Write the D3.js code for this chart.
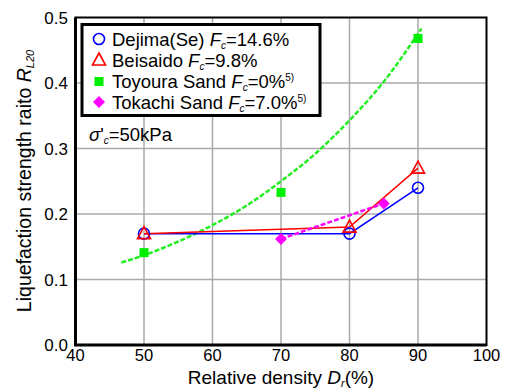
<!DOCTYPE html>
<html>
<head>
<meta charset="utf-8">
<style>
  body { margin: 0; background: #fff; }
  svg text { font-family: "Liberation Sans", Arial, sans-serif; fill: #000; }
  .grid line { stroke: #aaa; stroke-width: 1.5; }
</style>
</head>
<body>
<svg id="chart" width="505" height="388"></svg>
<script src="https://d3js.org/d3.v7.min.js"></script>
<script>
// values
var xTicks = [40, 50, 60, 70, 80, 90, 100];
var yTicks = [0.0, 0.1, 0.2, 0.3, 0.4, 0.5];

var dejima   = [[50, 0.17], [80, 0.17], [90, 0.24]];
var beisaido = [[50, 0.17], [80, 0.18], [90, 0.27]];
var toyoura  = [[50, 0.141], [70, 0.233], [90, 0.468]];
var tokachi  = [[70, 0.162], [85, 0.216]];
// green trend curve
var toyouraFit = [[46.7, 0.126], [50, 0.137], [55, 0.158], [60, 0.183], [65, 0.213],
                  [70, 0.25], [75, 0.292], [80, 0.343], [85, 0.402], [90.5, 0.483]];

var svg = d3.select("#chart");
var L = 75.5, R = 486.5, T = 17.5, B = 345;

var x = d3.scaleLinear().domain([40, 100]).range([L, R]);
var y = d3.scaleLinear().domain([0, 0.5]).range([B, T]);

// grid
var grid = svg.append("g").attr("class", "grid");
grid.selectAll(".gx").data(xTicks.slice(1, -1)).enter().append("line")
  .attr("x1", d => x(d)).attr("x2", d => x(d)).attr("y1", T).attr("y2", B);
grid.selectAll(".gy").data(yTicks.slice(1, -1)).enter().append("line")
  .attr("x1", L).attr("x2", R).attr("y1", d => y(d)).attr("y2", d => y(d));

// frame
svg.append("rect").attr("x", L).attr("y", T).attr("width", R - L).attr("height", B - T)
  .attr("fill", "none").attr("stroke", "#000").attr("stroke-width", 2);
svg.append("path").attr("d", `M${L},${T}V${B}H${R}`)
  .attr("fill", "none").attr("stroke", "#000").attr("stroke-width", 3);

// tick labels
svg.selectAll(".xl").data(xTicks).enter().append("text")
  .attr("x", d => x(d)).attr("y", 361).attr("text-anchor", "middle")
  .attr("font-size", 16.5).text(d => d);
svg.selectAll(".yl").data(yTicks).enter().append("text")
  .attr("x", 68).attr("y", d => y(d) + 6).attr("text-anchor", "end")
  .attr("font-size", 17).text(d => d.toFixed(1));

// axis titles
var xt = svg.append("text").attr("x", 281).attr("y", 384).attr("text-anchor", "middle")
  .attr("font-size", 19);
xt.append("tspan").text("Relative density ");
xt.append("tspan").attr("font-style", "italic").text("D");
xt.append("tspan").attr("font-style", "italic").attr("font-size", 11).attr("dy", 3).text("r");
xt.append("tspan").attr("dy", -3).text("(%)");

var yt = svg.append("text").attr("transform", "translate(31,181) rotate(-90)")
  .attr("text-anchor", "middle").attr("font-size", 19.5);
yt.append("tspan").text("Liquefaction strength raito ");
yt.append("tspan").attr("font-style", "italic").text("R");
yt.append("tspan").attr("font-style", "italic").attr("font-size", 11).attr("dy", 3).text("L20");

var line = d3.line().x(d => x(d[0])).y(d => y(d[1]));

svg.append("path").datum(toyouraFit)
  .attr("d", line.curve(d3.curveMonotoneX))
  .attr("fill", "none").attr("stroke", "#22ee22").attr("stroke-width", 2.5)
  .attr("stroke-dasharray", "5,2");
line.curve(d3.curveLinear);

svg.append("path").datum(dejima).attr("d", line)
  .attr("fill", "none").attr("stroke", "#0000ff").attr("stroke-width", 1.5);
svg.append("path").datum(beisaido).attr("d", line)
  .attr("fill", "none").attr("stroke", "#ff0000").attr("stroke-width", 1.5);
svg.append("path").datum(tokachi).attr("d", line)
  .attr("fill", "none").attr("stroke", "#ff00ff").attr("stroke-width", 2.5)
  .attr("stroke-dasharray", "5,2");

// markers
function circle(g) {
  g.append("circle").attr("r", 5.5).attr("fill", "none")
    .attr("stroke", "#0000ff").attr("stroke-width", 1.6);
}
function tri(g) {
  g.append("path").attr("d", "M0,-7L6.5,5L-6.5,5Z").attr("fill", "none")
    .attr("stroke", "#ff0000").attr("stroke-width", 1.6);
}
function square(g) {
  g.append("rect").attr("x", -4.5).attr("y", -4.5).attr("width", 9).attr("height", 9)
    .attr("fill", "#00ee00");
}
function diamond(g) {
  g.append("path").attr("d", "M0,-6L6,0L0,6L-6,0Z").attr("fill", "#ff00ff");
}
function marks(data, fn) {
  svg.selectAll(null).data(data).enter().append("g")
    .attr("transform", d => `translate(${x(d[0])},${y(d[1])})`)
    .each(function() { fn(d3.select(this)); });
}
marks(toyoura, square);
marks(tokachi, diamond);
marks(dejima, circle);
marks(beisaido, tri);

// legend
svg.append("rect").attr("x", 82).attr("y", 24.5).attr("width", 238).attr("height", 91)
  .attr("fill", "#fff").attr("stroke", "#000").attr("stroke-width", 3);
var legend = [
  {fn: circle,  name: "Dejima(Se) ", fc: "=14.6%", sup: ""},
  {fn: tri,     name: "Beisaido ", fc: "=9.8%", sup: ""},
  {fn: square,  name: "Toyoura Sand ", fc: "=0%", sup: "5)"},
  {fn: diamond, name: "Tokachi Sand ", fc: "=7.0%", sup: "5)"}
];
var ly = [39, 60, 81.5, 102];
legend.forEach(function(e, i) {
  var g = svg.append("g").attr("transform", `translate(99,${ly[i]})`);
  e.fn(g);
  var t = svg.append("text").attr("x", 112).attr("y", ly[i] + 6.5).attr("font-size", 18.5);
  t.append("tspan").text(e.name);
  t.append("tspan").attr("font-style", "italic").text("F");
  t.append("tspan").attr("font-style", "italic").attr("font-size", 10).attr("dy", 3).text("c");
  t.append("tspan").attr("dy", -3).text(e.fc);
  if (e.sup) t.append("tspan").attr("font-size", 10).attr("dy", -7).text(e.sup);
});

// confining pressure note
var s = svg.append("text").attr("x", 89).attr("y", 141).attr("font-size", 18.5);
s.append("tspan").attr("font-style", "italic").text("σ");
s.append("tspan").text("'");
s.append("tspan").attr("font-style", "italic").attr("font-size", 10).attr("dy", 3).text("c");
s.append("tspan").attr("dy", -3).text("=50kPa");
</script>
</body>
</html>
